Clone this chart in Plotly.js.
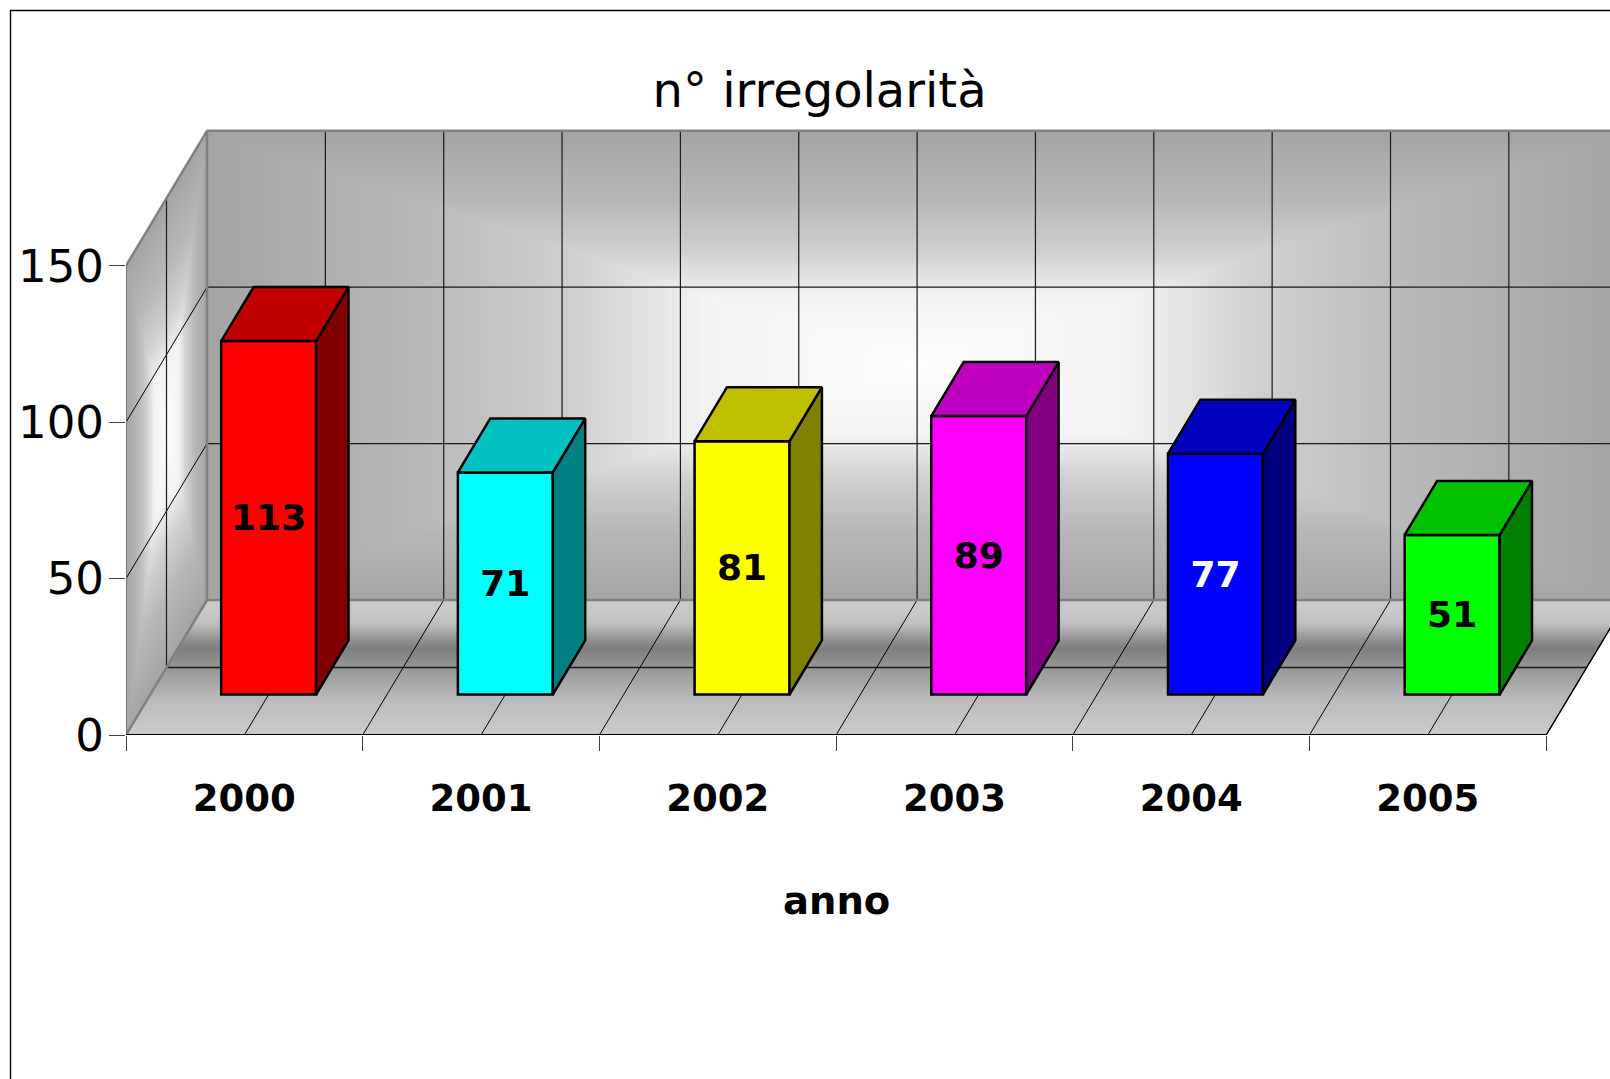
<!DOCTYPE html>
<html><head><meta charset="utf-8">
<script src="https://cdn.plot.ly/plotly-3.0.1.min.js"></script>
<style>html,body{margin:0;padding:0;background:#fff;overflow:hidden}#c{width:1610px;height:1079px}</style>
</head><body><div id="c"></div>
<script>
const years = ['2000','2001','2002','2003','2004','2005'];
const counts = [113,71,81,89,77,51];
const frontColors = ['#FF0000','#00FFFF','#FFFF00','#FF00FF','#0000FF','#00FF00'];
const topColors = ['#C00000','#00C0C0','#C0C000','#C000C0','#0000C0','#00C000'];
const sideColors = ['#800000','#008080','#808000','#800080','#000080','#008000'];
const labelColors = ['#000','#000','#000','#000','#fff','#000'];
const yTicks = [0,50,100,150];

const W=1610,H=1079,L=126,B=735,T=120;
const PXX=236.7, PXY=3.128;
const xMax=(W-L)/PXX, yMax=(B-T)/PXY;
const DX=81/PXX, DY=135/PXY;          // wall depth in axis units
const pt=(x,v,d)=>[x+d*DX, v+d*DY];
const FONT='"DejaVu Sans"';

function ramp(s,t){
  for(let k=1;k<s.length;k++) if(t<=s[k][0]){const f=(t-s[k-1][0])/(s[k][0]-s[k-1][0]);return s[k-1][1]+f*(s[k][1]-s[k-1][1]);}
  return s[s.length-1][1];
}
function wallImage(){
  const w=W-L,h=B-T,cv=document.createElement('canvas');cv.width=w;cv.height=h;
  const ctx=cv.getContext('2d'),im=ctx.createImageData(w,h),a=im.data;
  const wallStops=[[0,253],[.3,242],[.36,230],[.49,207],[.7,184],[1,164]];
  const floorStops=[[0,203],[.25,188],[.5,150],[.64,126],[.72,150],[.82,190],[.9,200],[1,202]];
  for(let j=0;j<h;j++)for(let i=0;i<w;i++){
    const x=(i+.5)/PXX,y=yMax*(1-(j+.5)/h);let c=-1;
    if(x>=DX&&x<=6+DX&&y>=DY&&y<=DY+150){
      const u=(x-DX-3)/3,v=(y-DY-75)/75;
      c=ramp(wallStops,Math.max(Math.abs(u),Math.abs(v)));
    }
    if(x>=0&&x<=DX){
      const d=x/DX,val=y-d*DY;
      if(val>=0&&val<=150){
        const u=(d-.5)/.5,v=(val-75)/75;
        c=ramp(wallStops,Math.max(Math.abs(u),Math.abs(v)));
      }
    }
    if(y>=0&&y<=DY){
      const d=y/DY,xx=x-d*DX;
      if(xx>=0&&xx<=6) c=ramp(floorStops,d);
    }
    const p=(j*w+i)*4;
    if(c>=0){a[p]=a[p+1]=a[p+2]=c;a[p+3]=255;}
  }
  ctx.putImageData(im,0,0);
  return cv.toDataURL('image/png');
}

const shapes=[];
function seg(a,b,color,width){shapes.push({type:'line',layer:'below',xref:'x',yref:'y',x0:a[0],y0:a[1],x1:b[0],y1:b[1],line:{color,width}});}
const GRID='#1a1a1a', EDGE='#808080';
// back wall gridlines
for(let k=1;k<=12;k++) seg(pt(k*.5,0,1),pt(k*.5,150,1),GRID,1.2);
for(const v of [50,100]) seg(pt(0,v,1),pt(6,v,1),GRID,1.2);
// side wall gridlines
for(const v of [50,100]) seg(pt(0,v,0),pt(0,v,1),'#000',1);
seg(pt(0,0,.5),pt(0,150,.5),GRID,1.2);
// floor gridlines
for(let k=1;k<=12;k++) seg(pt(k*.5,0,0),pt(k*.5,0,1),'#000',1);
seg(pt(0,0,.5),pt(6,0,.5),GRID,1.5);
// wall edges
seg(pt(0,150,1),pt(6,150,1),EDGE,2.5);
seg(pt(0,0,1),pt(6,0,1),EDGE,2.5);
seg(pt(0,0,1),pt(0,150,1),EDGE,2.5);
seg(pt(0,150,0),pt(0,150,1),EDGE,2.5);
seg(pt(0,0,0),pt(0,0,1),EDGE,2.5);
seg(pt(6,0,0),pt(6,0,1),'#000',1.4);
// frame around the chart area
const px=x=>(x-L)/(W-L), py=y=>(B-y)/(B-T);
shapes.push({type:'path',xref:'paper',yref:'paper',layer:'above',
  path:`M ${px(10.5)} ${py(H)} L ${px(10.5)} ${py(10.5)} L 1 ${py(10.5)}`,line:{color:'#000',width:1.4}});

const BAR_W=0.401, D0=.3, D1=.7;
const traces=[];
traces.push({type:'bar',x:years.map((_,i)=>i+.5+D0*DX),y:counts,base:counts.map(()=>D0*DY),width:BAR_W,
  marker:{color:frontColors,line:{color:'#000',width:2.5}},
  text:counts.map(String),textposition:'inside',insidetextanchor:'middle',textangle:0,constraintext:'none',
  insidetextfont:{family:FONT,size:36,color:labelColors,weight:'bold'},hoverinfo:'skip',showlegend:false});
counts.forEach((v,i)=>{
  const x0=i+.5-BAR_W/2,x1=i+.5+BAR_W/2;
  const face=(pts,color)=>traces.push({type:'scatter',mode:'lines',x:pts.map(p=>p[0]),y:pts.map(p=>p[1]),fill:'toself',fillcolor:color,
    line:{color:'#000',width:2.5,shape:'linear'},hoverinfo:'skip',showlegend:false});
  face([pt(x1,0,D0),pt(x1,0,D1),pt(x1,v,D1),pt(x1,v,D0),pt(x1,0,D0)],sideColors[i]);
  face([pt(x0,v,D0),pt(x1,v,D0),pt(x1,v,D1),pt(x0,v,D1),pt(x0,v,D0)],topColors[i]);
});
// axis lines stop at the last category and at the top tick, so they are drawn unclipped over the plot edge
traces.push({type:'scatter',mode:'lines',x:[0,0],y:[0,150],line:{color:'#707070',width:1.8},cliponaxis:false,hoverinfo:'skip',showlegend:false});
traces.push({type:'scatter',mode:'lines',x:[0,6],y:[0,0],line:{color:'#000',width:2},cliponaxis:false,hoverinfo:'skip',showlegend:false});

const layout={
  width:W,height:H,margin:{l:L,r:0,t:T,b:H-B,pad:0},
  paper_bgcolor:'#fff',plot_bgcolor:'rgba(0,0,0,0)',showlegend:false,bargap:0,
  font:{family:FONT,color:'#000'},
  title:{text:'n° irregolarità',font:{family:FONT,size:48,color:'#000'},x:819.6/W,xanchor:'center',xref:'container',y:1-107/H,yref:'container',yanchor:'bottom'},
  xaxis:{range:[0,xMax],tickmode:'array',tickvals:years.map((_,i)=>i+.5),ticktext:years,ticks:'',ticklen:0,
    tickfont:{family:FONT,size:37,weight:'bold',color:'#000'},ticklabelstandoff:38,showgrid:false,zeroline:false,showline:false,
    minor:{tickmode:'array',tickvals:[0,1,2,3,4,5,6],ticks:'outside',ticklen:15,tickcolor:'#404040',tickwidth:1,showgrid:false}},
  yaxis:{range:[0,yMax],tickmode:'array',tickvals:yTicks,ticks:'outside',ticklen:16,tickcolor:'#404040',tickwidth:1,
    tickfont:{family:FONT,size:45,color:'#000'},ticklabelstandoff:-4,showgrid:false,zeroline:false,showline:false},
  images:[{source:wallImage(),xref:'paper',yref:'paper',x:0,y:1,sizex:1,sizey:1,xanchor:'left',yanchor:'top',sizing:'stretch',layer:'below'}],
  shapes,
  annotations:[{text:'anno',xref:'x',yref:'paper',x:3,y:py(900),yanchor:'middle',xanchor:'center',showarrow:false,
    font:{family:FONT,size:38.5,weight:'bold',color:'#000'}}]
};
Plotly.newPlot('c',traces,layout,{displayModeBar:false,staticPlot:true});
</script></body></html>
